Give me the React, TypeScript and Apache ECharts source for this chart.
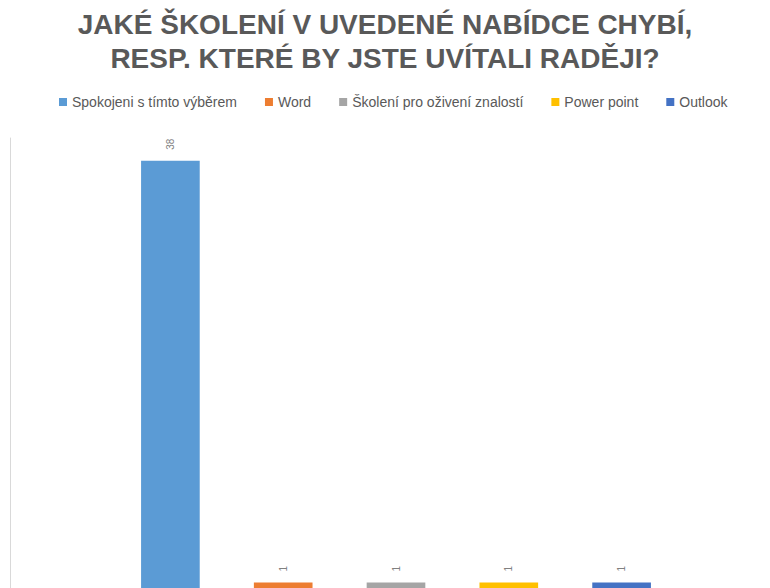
import React, { useEffect, useRef } from "react";
import * as echarts from "echarts";

const categories = [
  "Spokojeni s tímto výběrem",
  "Word",
  "Školení pro oživení znalostí",
  "Power point",
  "Outlook",
];
const values = [38, 1, 1, 1, 1];
const colors = ["#5b9bd5", "#ed7d31", "#a5a5a5", "#ffc000", "#4472c4"];
const titleText = "JAKÉ ŠKOLENÍ V UVEDENÉ NABÍDCE CHYBÍ,\nRESP. KTERÉ BY JSTE UVÍTALI RADĚJI?";

export default function App() {
  const ref = useRef<HTMLDivElement>(null);
  useEffect(() => {
    if (!ref.current) return;
    const chart = echarts.init(ref.current, null, { renderer: "svg" });
    const series = categories.map((name, i) => ({
      name,
      type: "bar",
      barGap: "-100%",
      barWidth: "52%",
      itemStyle: { color: colors[i] },
      data: categories.map((_, j) => (j === i ? values[i] : "-")),
      label: {
        show: true,
        position: "top",
        rotate: 90,
        align: "left",
        verticalAlign: "middle",
        distance: 11,
        color: "#808080",
        fontSize: 10,
        fontFamily: "Liberation Sans",
      },
    }));
    chart.setOption({
      animation: false,
      title: {
        text: titleText,
        left: "center",
        top: 2,
        textStyle: {
          fontFamily: "Liberation Sans",
          fontWeight: "bold",
          fontSize: 28,
          color: "#595959",
          lineHeight: 34,
        },
      },
      legend: {
        top: 90,
        left: 54,
        icon: "rect",
        itemWidth: 8,
        itemHeight: 8,
        itemGap: 28,
        data: categories,
        textStyle: {
          fontFamily: "Liberation Sans",
          fontSize: 14,
          color: "#595959",
        },
      },
      grid: { left: 114, right: 92, top: 138, bottom: 0 },
      xAxis: {
        type: "category",
        data: categories,
        show: false,
      },
      yAxis: {
        type: "value",
        min: 0,
        max: 40,
        offset: 104,
        axisLine: { show: true, lineStyle: { color: "#d9d9d9", width: 1 } },
        axisTick: { show: false },
        axisLabel: { show: false },
        splitLine: { show: false },
      },
      series,
    });
    return () => chart.dispose();
  }, []);
  return (
    <div
      ref={ref}
      style={{ position: "fixed", left: 0, top: 0, width: 770, height: 594, background: "#fff" }}
    />
  );
}
